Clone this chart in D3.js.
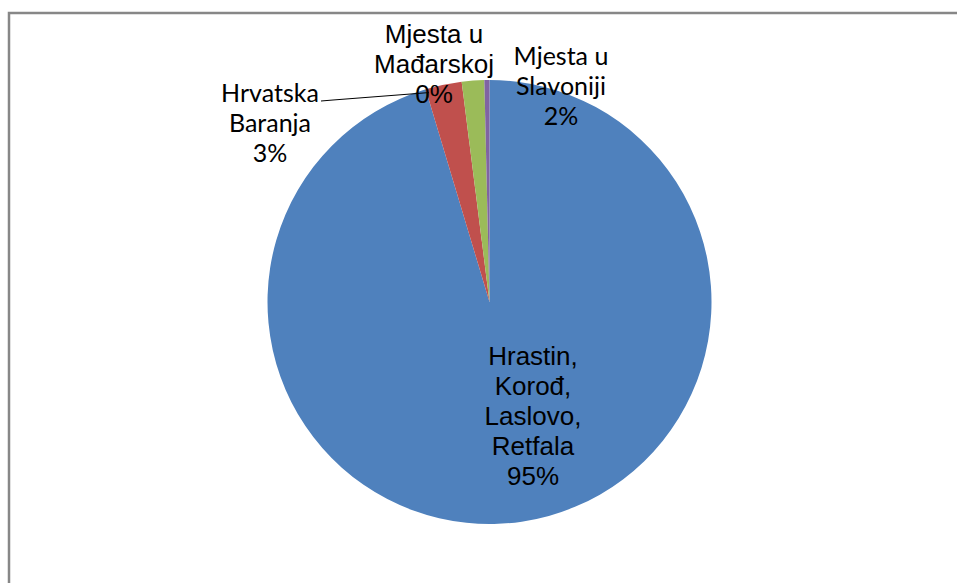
<!DOCTYPE html>
<html>
<head>
<meta charset="utf-8">
<script src="https://cdn.jsdelivr.net/npm/d3@7"></script>
<style>
  body { margin: 0; background: #fff; }
  svg { display: block; }
</style>
</head>
<body>
<svg id="chart" width="957" height="583"></svg>
<script>
// data, clockwise from 12 o'clock
let categories = ["Hrastin, Korođ, Laslovo, Retfala", "Hrvatska Baranja", "Mjesta u Slavoniji", "Mjesta u Mađarskoj"];
let values = [95.36, 2.64, 1.63, 0.37];
let percentLabels = ["95%", "3%", "2%", "0%"];
let labelLines = [
    ["Hrastin,", "Korođ,", "Laslovo,", "Retfala"],
    ["Hrvatska", "Baranja"],
    ["Mjesta u", "Slavoniji"],
    ["Mjesta u", "Mađarskoj"]
];
let colors = ["#4f81bd", "#c0504d", "#9bbb59", "#8064a2"];

// label layout (x centre, first baseline, font)
let labelPos = [
    { x: 533, y: 365, font: "'Liberation Sans', Arial, sans-serif", size: 26 },
    { x: 270, y: 102, font: "Lato, 'Open Sans', sans-serif", size: 25 },
    { x: 561, y: 65, font: "Lato, 'Open Sans', sans-serif", size: 25 },
    { x: 434, y: 43, font: "'Liberation Sans', Arial, sans-serif", size: 26 }
];
let lineGap = 30;

let svg = d3.select("#chart");
let cx = 489.5, cy = 302, radius = 222;

// chart border (only top & left visible in the crop)
svg.append("rect")
   .attr("x", 9).attr("y", 13)
   .attr("width", 1000).attr("height", 1000)
   .attr("fill", "none")
   .attr("stroke", "#878787")
   .attr("stroke-width", 2.5);

let pie = d3.pie().sort(null).value(d => d);
let arc = d3.arc().innerRadius(0).outerRadius(radius);

let g = svg.append("g").attr("transform", "translate(" + cx + "," + cy + ")");
g.selectAll("path")
 .data(pie(values))
 .enter()
 .append("path")
 .attr("d", arc)
 .attr("fill", (d, i) => colors[i]);

// leader line for Hrvatska Baranja
let arcs = pie(values);
let a = arcs[1].startAngle + 0.01;
let tip = [cx + Math.sin(a) * (radius - 4), cy - Math.cos(a) * (radius - 4)];
svg.append("polyline")
   .attr("points", [[321, 101], [333, 100], tip].map(p => p.join(",")).join(" "))
   .attr("fill", "none")
   .attr("stroke", "#000")
   .attr("stroke-width", 1);

categories.forEach((c, i) => {
    let p = labelPos[i];
    let t = svg.append("text")
               .attr("text-anchor", "middle")
               .attr("font-family", p.font)
               .attr("font-size", p.size)
               .attr("fill", "#000");
    labelLines[i].concat([percentLabels[i]]).forEach((line, j) => {
        t.append("tspan")
         .attr("x", p.x)
         .attr("y", p.y + j * lineGap)
         .text(line);
    });
});
</script>
</body>
</html>
